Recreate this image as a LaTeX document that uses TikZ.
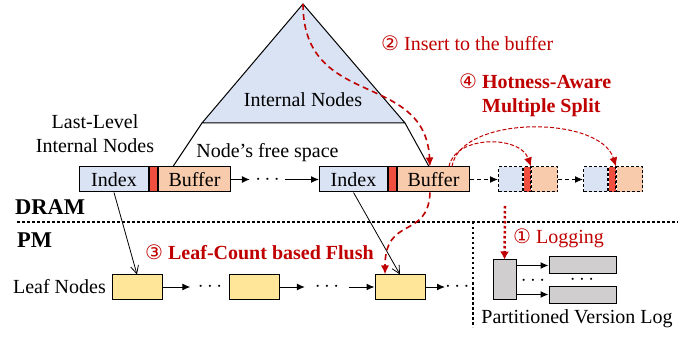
\documentclass[tikz,border=0pt]{standalone}
\usepackage{fontspec}
\setmainfont{Liberation Serif}
\newfontfamily\circfont{DejaVu Sans}
\usetikzlibrary{arrows.meta,positioning}
\definecolor{idxblue}{HTML}{DAE3F3}
\definecolor{bufpeach}{HTML}{F8CBAD}
\definecolor{lockred}{HTML}{F04E3E}
\definecolor{leafyellow}{HTML}{FFE699}
\definecolor{loggray}{HTML}{D0CECE}
\definecolor{txtred}{HTML}{C00000}
\tikzset{
  cell/.style={draw, line width=1pt, minimum height=25pt},
  idxcell/.style={cell, fill=idxblue, minimum width=69pt},
  lockcell/.style={cell, fill=lockred, minimum width=8pt},
  bufcell/.style={cell, fill=bufpeach, minimum width=72pt},
  spcell/.style={cell, dash pattern=on 3pt off 2pt},
  leaf/.style={draw, line width=1pt, fill=leafyellow, minimum width=50pt, minimum height=24pt},
  logcell/.style={draw, line width=1pt, fill=loggray},
  dotsbox/.style={minimum height=10pt},
  link/.style={-{Latex[length=8pt,width=7pt]}, line width=1pt},
  dlink/.style={link, dash pattern=on 4pt off 3pt},
  ptr/.style={-{Straight Barb[length=8pt,width=8pt]}, line width=0.8pt},
  redflow/.style={draw=txtred, line width=1.6pt, dash pattern=on 6pt off 4pt, -{Latex[length=9pt,width=8pt]}},
  splitflow/.style={draw=txtred, line width=1pt, dash pattern=on 4pt off 2pt, -{Latex[length=9pt,width=8pt]}},
  logflow/.style={draw=txtred, line width=2.5pt, dash pattern=on 2.5pt off 2.5pt, -{Latex[length=8pt,width=9pt]}},
  sep/.style={line width=2.5pt, dash pattern=on 2.5pt off 2.5pt},
  redlbl/.style={text=txtred},
  bold/.style={font=\fontsize{20}{24}\selectfont\bfseries},
  memlbl/.style={font=\fontsize{22.5}{24}\selectfont\bfseries}
}
\begin{document}
\begin{tikzpicture}[x=1pt, y=-1pt, inner sep=0pt, font=\fontsize{20}{24}\selectfont]
\useasboundingbox (0,0) rectangle (699,339);
% internal nodes
\coordinate (apex) at (303,4);
\coordinate (tl) at (202,123);
\coordinate (tr) at (405,123);
\filldraw[fill=idxblue, line width=1pt] (apex) -- (tl) -- (tr) -- cycle;
\node (inner) at (303,100) {Internal Nodes};

% last-level internal nodes
\node[idxcell, anchor=west] (idx1) at (79,179.5) {Index};
\node[lockcell, right=0pt of idx1] (lk1) {};
\node[bufcell, right=0pt of lk1] (buf1) {Buffer};
\node[dotsbox, minimum width=35pt] (dots1) at (267.5,179.5) {$\cdots$};
\node[idxcell, anchor=west, minimum width=68pt] (idx2) at (319,179.5) {Index};
\node[lockcell, right=0pt of idx2] (lk2) {};
\node[bufcell, right=0pt of lk2] (buf2) {Buffer};
\draw[link] (buf1) -- (dots1);
\draw[link] (dots1) -- (idx2);
\draw[line width=1pt] (tl) -- ([xshift=15pt]buf1.north west);
\draw[line width=1pt] (tr) -- ([xshift=32pt]buf2.north west);

% split nodes
\node[spcell, fill=idxblue, minimum width=24pt, anchor=west] (sa1) at (498,179.5) {};
\node[spcell, fill=lockred, minimum width=7pt, right=0pt of sa1] (sb1) {};
\node[spcell, fill=bufpeach, minimum width=26pt, right=0pt of sb1] (sc1) {};
\node[spcell, fill=idxblue, minimum width=24pt, anchor=west] (sa2) at (583,179.5) {};
\node[spcell, fill=lockred, minimum width=7pt, right=0pt of sa2] (sb2) {};
\node[spcell, fill=bufpeach, minimum width=26pt, right=0pt of sb2] (sc2) {};
\draw[dlink] (buf2) -- (sa1);
\draw[dlink] (sc1) -- (sa2);

\node[align=center] (lastlvl) at (95,134) {Last-Level\\Internal Nodes};
\node (free) at (267.5,153) {Node’s free space};

% DRAM / PM
\node[memlbl, anchor=west] (dram) at (15,207) {DRAM};
\node[memlbl, anchor=west] (pm) at (17,240) {PM};
\draw[sep] (17,222) -- (678,222);
\draw[sep] (473,222) -- (473,327);

% leaf nodes
\node[anchor=east] (leaflbl) at (106,287) {Leaf Nodes};
\node[leaf] (leaf1) at (137,287) {};
\node[dotsbox, minimum width=39pt] (ldots1) at (210,287) {$\cdots$};
\node[leaf] (leaf2) at (254,287) {};
\node[dotsbox, minimum width=44pt] (ldots2) at (327,287) {$\cdots$};
\node[leaf] (leaf3) at (400,287) {};
\node[dotsbox, minimum width=20pt, anchor=west] (ldots3) at (445,287) {$\cdots$};
\draw[link] (leaf1) -- (ldots1);
\draw[link] (leaf2) -- (ldots2);
\draw[link] (ldots2) -- (leaf3);
\draw[link] (leaf3) -- (ldots3);
\draw[ptr] (idx1.south) -- (leaf1.north);
\draw[ptr] (idx2.south) -- (leaf3.north);

% partitioned version log
\node[logcell, minimum width=23pt, minimum height=39pt] (plog) at (504.5,279.5) {};
\node[logcell, minimum width=67pt, minimum height=17pt] (seg1) at (582.5,265.5) {};
\node[logcell, minimum width=67pt, minimum height=17pt] (seg2) at (582.5,294.5) {};
\draw[link] (plog.east |- seg1.west) -- (seg1.west);
\draw[link] (plog.east |- seg2.west) -- (seg2.west);
\node (vdots1) at (533,281) {$\cdots$};
\node (vdots2) at (582,280) {$\cdots$};
\node (plbl) at (577,319) {Partitioned Version Log};

% red flows
\draw[redflow] (apex) .. controls (303,110) and (425,70) .. ([xshift=33pt]buf2.north west);
\draw[splitflow] ([xshift=-21pt]buf2.north east) .. controls (455,135) and (520,135) .. (sb1.north east);
\draw[splitflow] ([xshift=-18pt]buf2.north east) .. controls (460,115) and (600,115) .. (sb2.north east);
\draw[redflow] ([xshift=33pt]buf2.south west) .. controls (428,240) and (385,215) .. ([xshift=-15pt]leaf3.north);
\coordinate (logsrc) at (505,206);
\draw[logflow] (logsrc) -- (plog.north);

\node[redlbl, anchor=west] (l2) at (381,43) {{\circfont ②} Insert to the buffer};
\node[redlbl, bold, anchor=west, align=left] (l4) at (459,95) {{\circfont\mdseries ④} Hotness-Aware\\\hphantom{{\circfont\mdseries ④} }Multiple Split};
\node[redlbl, bold, anchor=west] (l3) at (145,252) {{\circfont\mdseries ③} Leaf-Count based Flush};
\node[redlbl, anchor=west] (l1) at (513,238) {{\circfont ①} Logging};
\end{tikzpicture}
\end{document}
